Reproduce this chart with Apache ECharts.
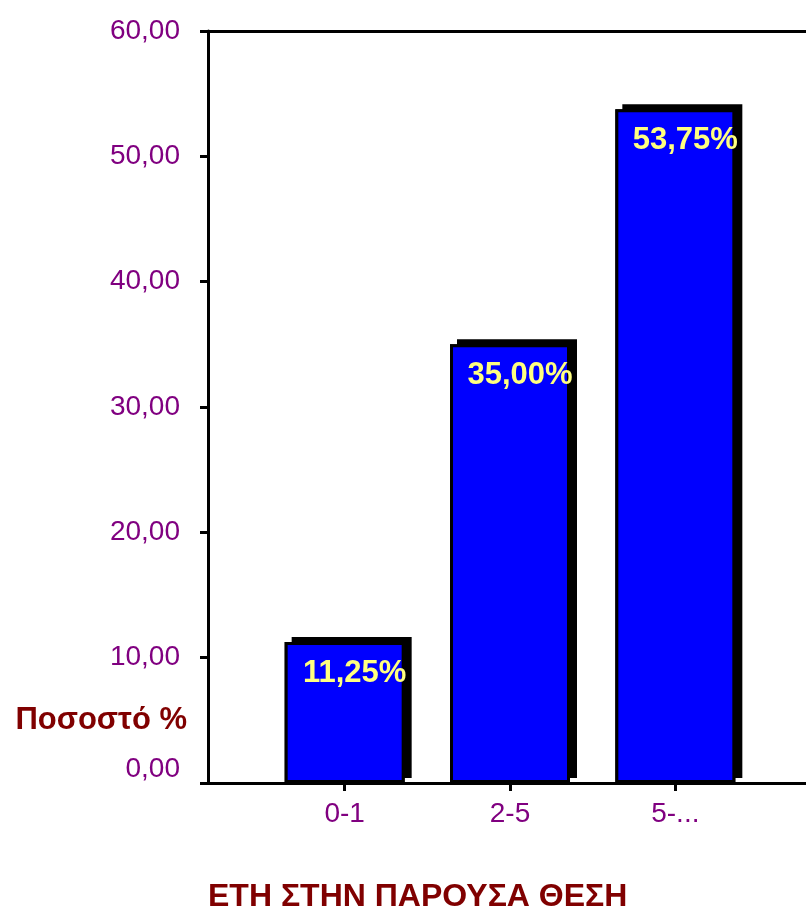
<!DOCTYPE html>
<html>
<head>
<meta charset="utf-8">
<script src="https://cdn.jsdelivr.net/npm/echarts@6/dist/echarts.min.js"></script>
<style>html,body{margin:0;padding:0;background:#fff;}#c{width:806px;height:911px;}</style>
</head>
<body>
<div id="c"></div>
<script>
const categories = ['0-1', '2-5', '5-...'];
const values = [11.25, 35.00, 53.75];
const yTicks = [0, 10, 20, 30, 40, 50, 60];
const yName = 'Ποσοστό %';
const xName = 'ΕΤΗ ΣΤΗΝ ΠΑΡΟΥΣΑ ΘΕΣΗ';

const fmt = v => v.toFixed(2).replace('.', ',');
const FONT = '"Liberation Sans", Arial, sans-serif';

const chart = echarts.init(document.getElementById('c'), null, {renderer: 'canvas'});
chart.setOption({
  backgroundColor: '#ffffff',
  animation: false,
  title: [
    {text: yName, right: 619, top: 705, padding: 0,
     textStyle: {fontFamily: FONT, fontSize: 31, fontWeight: 'bold', color: '#800000'}},
    {text: xName, left: 208, top: 881, padding: 0,
     textStyle: {fontFamily: FONT, fontSize: 32, fontWeight: 'bold', color: '#800000'}}
  ],
  grid: [
    {left: 208, right: -20, top: 31, bottom: 128},
    {left: 262, width: 496, top: 31, bottom: 128}
  ],
  xAxis: [
    {gridIndex: 0, type: 'value', min: 0, max: 1, position: 'bottom',
     axisLine: {show: true, lineStyle: {color: '#000', width: 3}},
     axisTick: {show: false}, axisLabel: {show: false}, splitLine: {show: false}},
    {gridIndex: 0, type: 'value', min: 0, max: 1, position: 'top',
     axisLine: {show: true, lineStyle: {color: '#000', width: 3}},
     axisTick: {show: false}, axisLabel: {show: false}, splitLine: {show: false}},
    {gridIndex: 1, type: 'category', data: categories, position: 'bottom',
     axisLine: {show: false},
     axisTick: {show: true, alignWithLabel: true, length: 8, lineStyle: {color: '#000', width: 3}},
     axisLabel: {margin: 17, fontFamily: FONT, fontSize: 28, color: '#800080'},
     splitLine: {show: false}}
  ],
  yAxis: [
    {gridIndex: 0, type: 'value', min: yTicks[0], max: yTicks[yTicks.length - 1], interval: 10,
     axisLine: {show: true, onZero: false, lineStyle: {color: '#000', width: 3}},
     axisTick: {show: true, length: 8, lineStyle: {color: '#000', width: 3}},
     axisLabel: {margin: 28, fontFamily: FONT, fontSize: 28, color: '#800080',
       formatter: v => v === 0 ? '{z|' + fmt(v) + '}' : fmt(v),
       rich: {z: {fontFamily: FONT, fontSize: 28, color: '#800080', padding: [0, 0, 28, 0]}}},
     splitLine: {show: false}},
    {gridIndex: 1, type: 'value', min: yTicks[0], max: yTicks[yTicks.length - 1], interval: 10, show: false}
  ],
  series: [
    {
      type: 'bar',
      xAxisIndex: 2,
      yAxisIndex: 1,
      data: values,
      barWidth: 120,
      z: 1,
      silent: true,
      itemStyle: {
        color: '#000',
        shadowColor: '#000',
        shadowBlur: 0,
        shadowOffsetX: 7,
        shadowOffsetY: -5
      }
    },
    {
      type: 'bar',
      xAxisIndex: 2,
      yAxisIndex: 1,
      data: values,
      barWidth: 120,
      barGap: '-100%',
      z: 2,
      itemStyle: {
        color: '#0000ff',
        borderColor: '#000',
        borderWidth: 3
      },
      label: {
        show: true,
        position: 'insideTop',
        distance: 5,
        offset: [10, 11],
        formatter: p => fmt(p.value) + '%',
        fontFamily: FONT,
        fontSize: 31,
        fontWeight: 'bold',
        color: '#ffff80'
      }
    }
  ]
});
</script>
</body>
</html>
